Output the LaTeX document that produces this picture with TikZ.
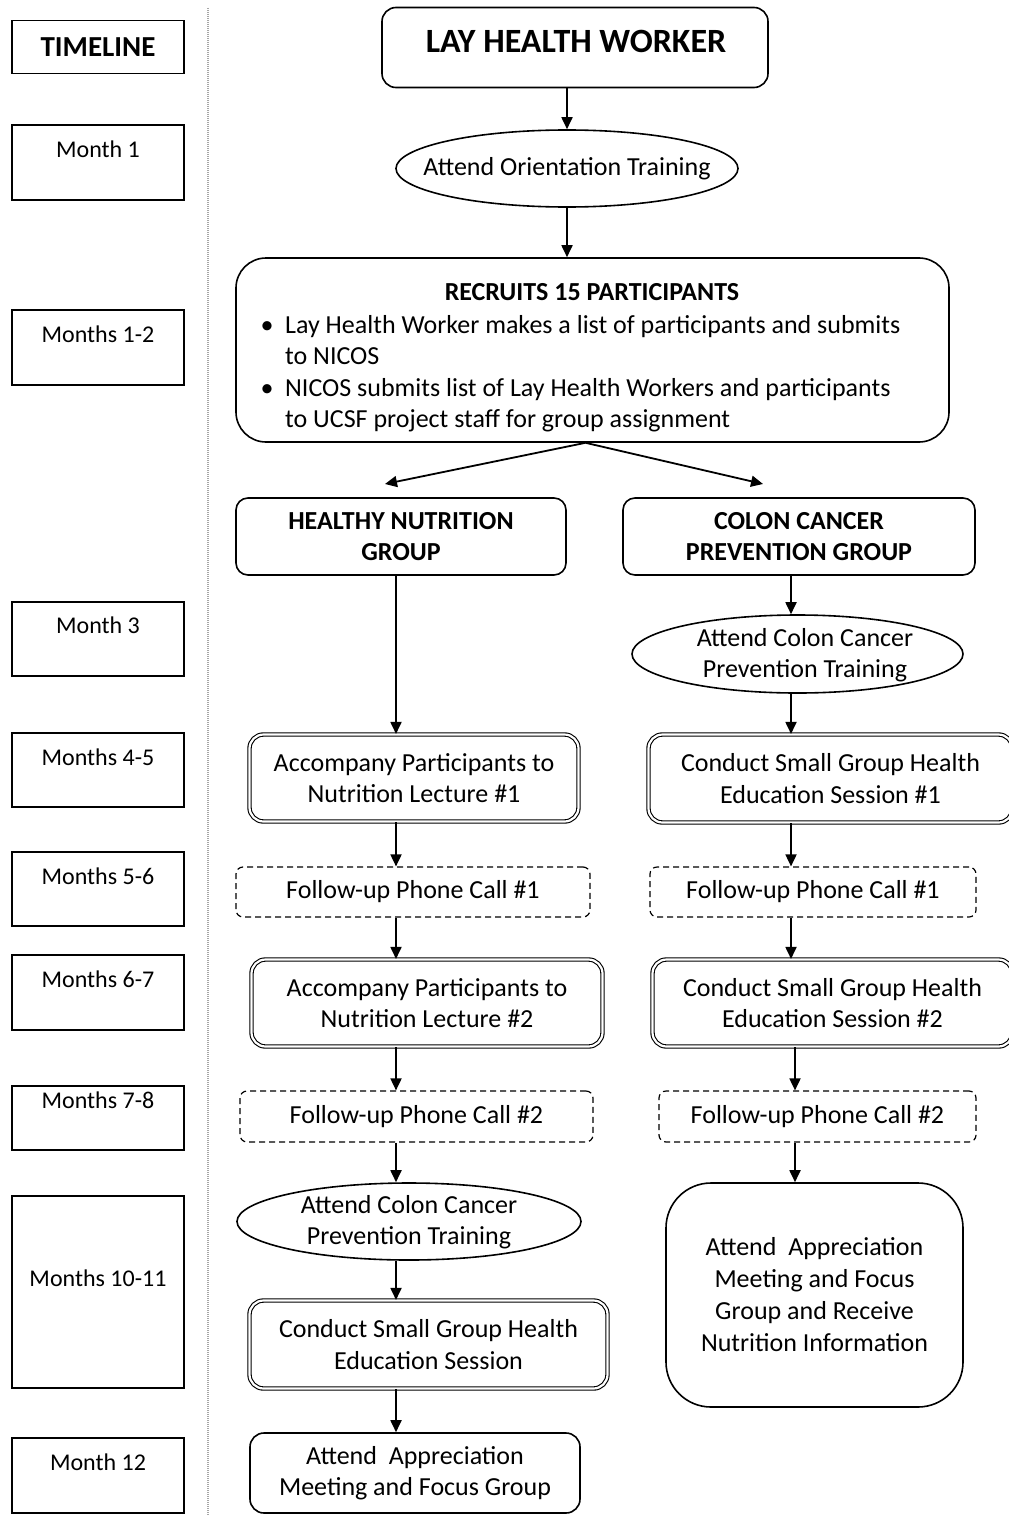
\documentclass[tikz,border=0pt]{standalone}
\usepackage{fontspec}
\setmainfont{Carlito}
\usetikzlibrary{shapes.geometric,arrows.meta}
\newcommand\fmain{\fontsize{26bp}{31.5bp}\selectfont}
\newcommand\ftl{\fontsize{24bp}{29bp}\selectfont}
\begin{document}
\begin{tikzpicture}[x=1bp,y=-1bp,
  base/.style={draw, line width=1.6bp, inner sep=0pt, align=center, font=\fmain},
  tlbox/.style={base, rectangle},
  tltext/.style={font=\ftl, anchor=base, inner sep=0pt},
  rbox/.style={base, rounded corners=14bp},
  dbox/.style={base, line width=1.1bp, double, double distance=2.2bp, rounded corners=14bp},
  fbox/.style={base, line width=1.2bp, dash pattern=on 6bp off 4bp, rounded corners=7bp},
  ebox/.style={base, ellipse},
  plain/.style={inner sep=0pt, font=\fmain, align=center},
  arr/.style={line width=1.8bp, -{Triangle[length=12bp,width=11bp]}},
]
\useasboundingbox (0,0) rectangle (1008,1516);
\fill[white] (0,0) rectangle (1008,1516);

% ---------- timeline ----------
\node[tlbox, minimum width=172bp, minimum height=53bp, font=\fontsize{29bp}{34bp}\selectfont\bfseries] (tlh) at (98,47) {TIMELINE};
\node[tlbox, minimum width=172bp, minimum height=75bp] (t1) at (98,162.5) {};
\node[tltext] (t1t) at (98,157) {Month 1};
\node[tlbox, minimum width=172bp, minimum height=75bp] (t2) at (98,347.5) {};
\node[tltext] (t2t) at (98,342) {Months 1-2};
\node[tlbox, minimum width=172bp, minimum height=74bp] (t3) at (98,639) {};
\node[tltext] (t3t) at (98,633) {Month 3};
\node[tlbox, minimum width=172bp, minimum height=74bp] (t4) at (98,770) {};
\node[tltext] (t4t) at (98,765) {Months 4-5};
\node[tlbox, minimum width=172bp, minimum height=74bp] (t5) at (98,889) {};
\node[tltext] (t5t) at (98,884) {Months 5-6};
\node[tlbox, minimum width=172bp, minimum height=75bp] (t6) at (98,992.5) {};
\node[tltext] (t6t) at (98,987) {Months 6-7};
\node[tlbox, minimum width=172bp, minimum height=64bp] (t7) at (98,1118) {};
\node[tltext] (t7t) at (98,1108) {Months 7-8};
\node[tlbox, minimum width=172bp, minimum height=192bp] (t8) at (98,1292) {};
\node[tltext] (t8t) at (98,1286) {Months 10-11};
\node[tlbox, minimum width=172bp, minimum height=75bp] (t9) at (98,1475.5) {};
\node[tltext] (t9t) at (98,1470) {Month 12};

% dotted separator
\coordinate (dtop) at (208,8);
\coordinate (dbot) at (208,1516);
\draw[gray!70, line width=1.6bp, dash pattern=on 1bp off 1bp] (dtop) -- (dbot);

% ---------- main ----------
\node[rbox, minimum width=386bp, minimum height=80bp] (lhw) at (575,47.5) {};
\node[plain, anchor=base, font=\fontsize{34bp}{40bp}\selectfont\bfseries] (lhwt) at (576,53) {LAY HEALTH WORKER};

\node[ebox, minimum width=342bp, minimum height=77bp] (ao) at (567,168.5) {};
\node[plain] (aot) at (567,168.5) {Attend Orientation Training};

\node[base, rounded corners=30bp, minimum width=713bp, minimum height=184bp] (rec) at (592.5,350) {};
\node[plain, anchor=base, font=\fmain\bfseries] (rech) at (592,300) {RECRUITS 15 PARTICIPANTS};
\node[plain, anchor=base] (b1) at (267,333) {\textbullet};
\node[plain, anchor=base west] (r1) at (285,333) {Lay Health Worker makes a list of participants and submits};
\node[plain, anchor=base west] (r2) at (285,364) {to NICOS};
\node[plain, anchor=base] (b2) at (267,396) {\textbullet};
\node[plain, anchor=base west] (r3) at (285,396) {NICOS submits list of Lay Health Workers and participants};
\node[plain, anchor=base west] (r4) at (285,427) {to UCSF project staff for group assignment};

\coordinate (hnin) at (385,484);
\coordinate (ccin) at (763,484);

\node[rbox, rounded corners=12bp, minimum width=330bp, minimum height=77bp, font=\fmain\bfseries] (hn) at (401,536.5) {HEALTHY NUTRITION\\GROUP};
\node[rbox, rounded corners=12bp, minimum width=352bp, minimum height=77bp, font=\fmain\bfseries] (cc) at (799,536.5) {COLON CANCER\\PREVENTION GROUP};

% left column
\node[dbox, minimum width=329bp, minimum height=87bp] (acc1) at (414,778) {Accompany Participants to\\Nutrition Lecture \#1};
\node[fbox, minimum width=354bp, minimum height=50bp] (fu1) at (413,892) {Follow-up Phone Call \#1};
\node[dbox, minimum width=351bp, minimum height=87bp] (acc2) at (427,1003) {Accompany Participants to\\Nutrition Lecture \#2};
\node[fbox, minimum width=353bp, minimum height=51bp] (fu2) at (416.5,1116.5) {Follow-up Phone Call \#2};
\node[ebox, minimum width=344bp, minimum height=77bp] (ecl) at (409,1221.5) {};
\node[plain] (eclt) at (409,1222) {Attend Colon Cancer\\Prevention Training};
\node[dbox, minimum width=358bp, minimum height=88bp] (cs) at (428.5,1344.5) {Conduct Small Group Health\\Education Session};
\node[rbox, minimum width=330bp, minimum height=80bp] (app) at (415,1473) {Attend\ \ Appreciation\\Meeting and Focus Group};

% right column
\node[ebox, minimum width=331bp, minimum height=78bp] (ecr) at (797.5,654) {};
\node[plain] (ecrt) at (805,655) {Attend Colon Cancer\\Prevention Training};
\node[dbox, minimum width=364bp, minimum height=88bp] (cs1) at (830.5,778.5) {Conduct Small Group Health\\Education Session \#1};
\node[fbox, minimum width=326bp, minimum height=50bp] (fr1) at (813,892) {Follow-up Phone Call \#1};
\node[dbox, minimum width=360bp, minimum height=87bp] (cs2) at (832.5,1003) {Conduct Small Group Health\\Education Session \#2};
\node[fbox, minimum width=317bp, minimum height=51bp] (fr2) at (817.5,1116.5) {Follow-up Phone Call \#2};
\node[base, rounded corners=45bp, minimum width=297bp, minimum height=224bp, font=\fontsize{26bp}{32bp}\selectfont] (fin) at (814.5,1295) {Attend\ \ Appreciation\\Meeting and Focus\\Group and Receive\\Nutrition Information};

% ---------- connectors ----------
\coordinate (xl) at (396,0);
\coordinate (xr) at (791,0);
\coordinate (xr2) at (795,0);

\draw[arr] (lhw.south -| ao.north) -- (ao.north);
\draw[arr] (ao.south) -- (ao.south |- rec.north);
\draw[arr] ([xshift=-7bp]rec.south) -- (hnin);
\draw[arr] ([xshift=-7bp]rec.south) -- (ccin);

\draw[arr] (hn.south -| xl) -- (acc1.north -| xl);
\draw[arr] (acc1.south -| xl) -- (fu1.north -| xl);
\draw[arr] (fu1.south -| xl) -- (acc2.north -| xl);
\draw[arr] (acc2.south -| xl) -- (fu2.north -| xl);
\draw[arr] (fu2.south -| xl) -- (ecl.north -| xl);
\draw[arr] (ecl.south -| xl) -- (cs.north -| xl);
\draw[arr] (cs.south -| xl) -- (app.north -| xl);

\draw[arr] (cc.south -| xr) -- (ecr.north -| xr);
\draw[arr] (ecr.south -| xr) -- (cs1.north -| xr);
\draw[arr] (cs1.south -| xr) -- (fr1.north -| xr);
\draw[arr] (fr1.south -| xr) -- (cs2.north -| xr);
\draw[arr] (cs2.south -| xr2) -- (fr2.north -| xr2);
\draw[arr] (fr2.south -| xr2) -- (fin.north -| xr2);
\end{tikzpicture}
\end{document}
